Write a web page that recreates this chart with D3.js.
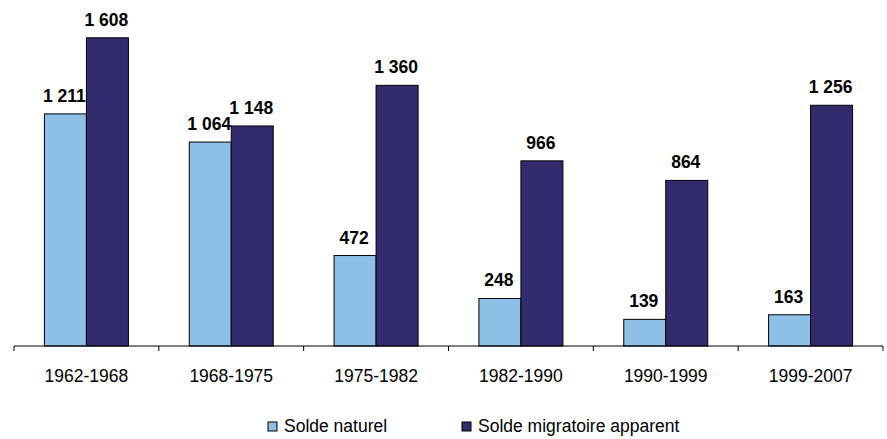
<!DOCTYPE html>
<html lang="fr">
<head>
<meta charset="UTF-8" />
<title>Solde naturel et migratoire</title>
<script src="https://d3js.org/d3.v7.min.js"></script>
<style>
    body { margin: 0; background: #fff; }
    svg { display: block; font-family: Arial, "Liberation Sans", sans-serif; }
</style>
</head>
<body>
<div id="chart"></div>
<script>
    // --- Data ---
    const periods = ["1962-1968", "1968-1975", "1975-1982", "1982-1990", "1990-1999", "1999-2007"];
    const soldeNaturel = [1211, 1064, 472, 248, 139, 163];
    const soldeMigratoire = [1608, 1148, 1360, 966, 864, 1256];
    const seriesNames = ["Solde naturel", "Solde migratoire apparent"];
    const colors = ["#8EBFE6", "#322C6E"];

    const width = 887, height = 439;
    const svg = d3.select("#chart").append("svg")
        .attr("width", width)
        .attr("height", height);

    const x = d3.scaleBand().domain(periods).range([14, 883]).paddingInner(0).paddingOuter(0);
    // two bars of ~42px in each 145px group
    const xSub = d3.scaleBand().domain([0, 1]).range([0, x.bandwidth()]).paddingOuter(0.724).paddingInner(0);
    const y = d3.scaleLinear().domain([0, 1800]).range([346, 1]);

    const data = periods.map((p, i) => ({ period: p, values: [soldeNaturel[i], soldeMigratoire[i]] }));
    const fmt = v => d3.format(",")(v).replace(/,/g, " ");

    const groups = svg.append("g").selectAll("g").data(data).join("g")
        .attr("transform", d => `translate(${x(d.period)},0)`);

    groups.selectAll("rect").data(d => d.values.map((v, k) => ({ v, k }))).join("rect")
        .attr("x", d => xSub(d.k))
        .attr("y", d => y(d.v))
        .attr("width", xSub.bandwidth())
        .attr("height", d => y(0) - y(d.v))
        .attr("fill", d => colors[d.k])
        .attr("stroke", "#000")
        .attr("stroke-width", 1);

    groups.selectAll("text.val").data(d => d.values.map((v, k) => ({ v, k }))).join("text")
        .attr("class", "val")
        .attr("x", d => xSub(d.k) + xSub.bandwidth() / 2 - 1)
        .attr("y", d => y(d.v) - 12)
        .attr("text-anchor", "middle")
        .attr("font-size", 17.5)
        .attr("font-weight", "bold")
        .text(d => fmt(d.v));

    // Axis
    const axis = svg.append("g");
    axis.append("line")
        .attr("x1", 14).attr("x2", 883)
        .attr("y1", y(0)).attr("y2", y(0))
        .attr("stroke", "#000");
    const ticks = periods.map(p => x(p)).concat([x.range()[1]]);
    axis.selectAll("line.tick").data(ticks).join("line")
        .attr("class", "tick")
        .attr("x1", d => d).attr("x2", d => d)
        .attr("y1", y(0)).attr("y2", y(0) + 5)
        .attr("stroke", "#000");
    axis.selectAll("text").data(periods).join("text")
        .attr("x", d => x(d) + x.bandwidth() / 2)
        .attr("y", 382)
        .attr("text-anchor", "middle")
        .attr("font-size", 17.5)
        .text(d => d);

    // Legend
    const legendX = [268, 462];
    const legend = svg.append("g").selectAll("g").data(seriesNames).join("g")
        .attr("transform", (d, i) => `translate(${legendX[i]},422)`);
    legend.append("rect")
        .attr("width", 9).attr("height", 9)
        .attr("fill", (d, i) => colors[i])
        .attr("stroke", "#000");
    legend.append("text")
        .attr("x", 16).attr("y", 10)
        .attr("font-size", 17.5)
        .text(d => d);
</script>
</body>
</html>
